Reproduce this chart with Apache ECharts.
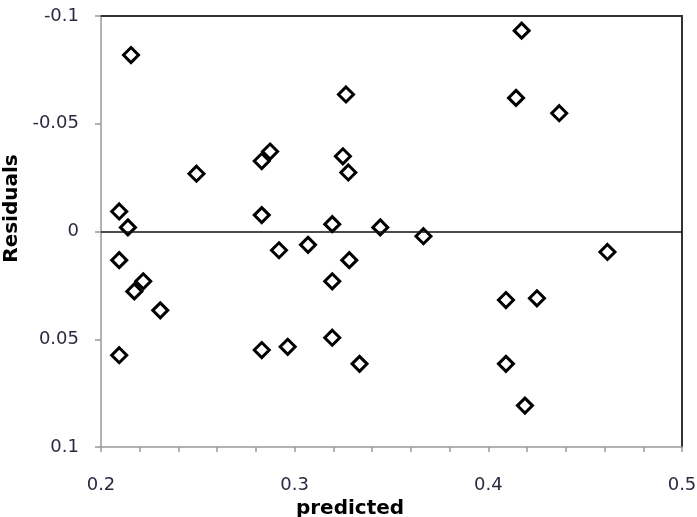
<!DOCTYPE html>
<html>
<head>
<meta charset="utf-8">
<script src="https://cdn.jsdelivr.net/npm/echarts@6/dist/echarts.min.js"></script>
<style>html,body{margin:0;padding:0;background:#fff}#c{width:697px;height:517px}</style>
</head>
<body>
<div id="c"></div>
<script>
var predicted = [0.2155, 0.3265, 0.2873, 0.2830, 0.3249, 0.3277, 0.2493, 0.2094, 0.2830, 0.2139, 0.3194, 0.3442,
  0.2094, 0.2218, 0.2172, 0.2306, 0.2094, 0.2919, 0.3069, 0.3282, 0.3194, 0.2830, 0.2964, 0.3194, 0.3335,
  0.4172, 0.4143, 0.4366, 0.3665, 0.4615, 0.4091, 0.4251, 0.4091, 0.4189];
var residuals = [-0.0819, -0.0636, -0.0371, -0.0327, -0.0349, -0.0274, -0.0268, -0.0093, -0.0076, -0.0019, -0.0034, -0.0019,
  0.0133, 0.0231, 0.0278, 0.0366, 0.0574, 0.0087, 0.0062, 0.0133, 0.0231, 0.0550, 0.0535, 0.0493, 0.0614,
  -0.0932, -0.0620, -0.0549, 0.0022, 0.0095, 0.0318, 0.0310, 0.0614, 0.0808];
var xTitle = 'predicted';
var yTitle = 'Residuals';

var points = predicted.map(function (x, i) { return [x, residuals[i]]; });
var labelColor = '#2a2a40';
var chart = echarts.init(document.getElementById('c'), null, {renderer: 'canvas'});
chart.setOption({
  animation: false,
  backgroundColor: '#fff',
  grid: {left: 101, top: 16, right: 15, bottom: 70, containLabel: false, outerBoundsMode: 'none'},
  xAxis: [{
    type: 'value', min: 0.2, max: 0.5, interval: 0.1,
    name: xTitle, nameLocation: 'middle', nameGap: 42,
    nameTextStyle: {fontFamily: 'DejaVu Sans', fontWeight: 'bold', fontSize: 20, color: '#000', padding: [0, 83, 0, 0]},
    axisLine: {show: true, onZero: false, lineStyle: {color: '#999', width: 1.5}},
    axisTick: {show: true, length: 5, lineStyle: {color: '#999', width: 1.5}},
    minorTick: {show: true, splitNumber: 5, length: 5, lineStyle: {color: '#999', width: 1.5}},
    axisLabel: {margin: 29, fontFamily: 'DejaVu Sans', fontSize: 18, color: labelColor},
    splitLine: {show: false}
  }, {
    type: 'value', min: 0.2, max: 0.5, position: 'top',
    axisLine: {show: true, onZero: false, lineStyle: {color: '#333', width: 2}},
    axisTick: {show: false}, axisLabel: {show: false}, splitLine: {show: false}
  }],
  yAxis: [{
    type: 'value', min: -0.1, max: 0.1, interval: 0.05, inverse: true,
    name: yTitle, nameLocation: 'middle', nameGap: 65, nameRotate: 90,
    nameTextStyle: {fontFamily: 'DejaVu Sans', fontWeight: 'bold', fontSize: 20, color: '#000', padding: [0, 0, 0, 46]},
    axisLine: {show: true, onZero: false, lineStyle: {color: '#999', width: 1.5}},
    axisTick: {show: true, length: 6, lineStyle: {color: '#999', width: 1.5}},
    axisLabel: {margin: 22, fontFamily: 'DejaVu Sans', fontSize: 18, color: labelColor},
    splitLine: {show: false}
  }, {
    type: 'value', min: -0.1, max: 0.1, inverse: true, position: 'right',
    axisLine: {show: true, onZero: false, lineStyle: {color: '#333', width: 2}},
    axisTick: {show: false}, axisLabel: {show: false}, splitLine: {show: false}
  }],
  series: [{
    type: 'scatter',
    data: points,
    symbol: 'diamond',
    symbolSize: 15,
    itemStyle: {color: 'rgba(0,0,0,0)', borderColor: '#000', borderWidth: 3, opacity: 1},
    markLine: {
      silent: true, symbol: 'none', label: {show: false},
      lineStyle: {color: '#111', width: 1.5, type: 'solid'},
      data: [{yAxis: 0}]
    },
    z: 3
  }]
});
</script>
</body>
</html>
